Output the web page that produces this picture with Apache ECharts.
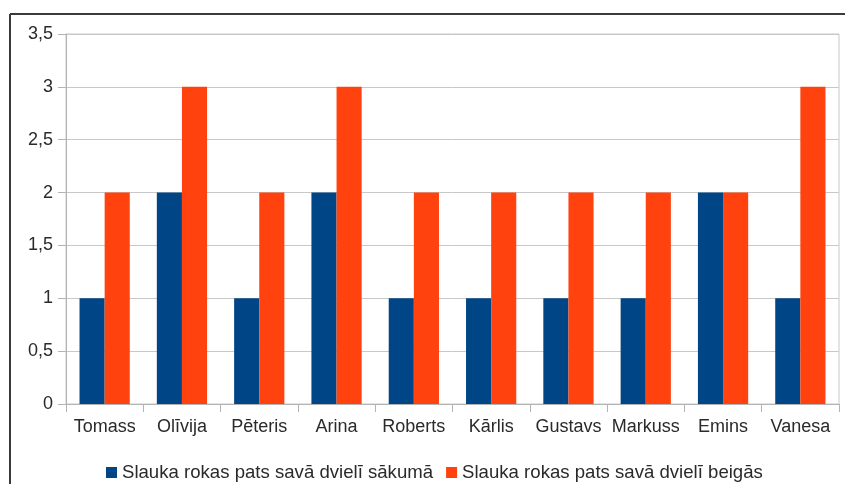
<!DOCTYPE html>
<html><head><meta charset="utf-8">
<script src="https://cdn.jsdelivr.net/npm/echarts@6/dist/echarts.min.js"></script>
<style>html,body{margin:0;padding:0;background:#fff}#c{width:845px;height:484px}</style>
</head><body><div id="c"></div>
<script>
const categories = ["Tomass","Olīvija","Pēteris","Arina","Roberts","Kārlis","Gustavs","Markuss","Emins","Vanesa"];
const seriesNames = ["Slauka rokas pats savā dvielī sākumā","Slauka rokas pats savā dvielī beigās"];
const startValues = [1,2,1,2,1,1,1,1,2,1];
const endValues = [2,3,2,3,2,2,2,2,2,3];
const yTicks = {min:0, max:3.5, interval:0.5};

const font = "Liberation Sans";
const txt = '#2a2a2a';
const chart = echarts.init(document.getElementById('c'), null, {renderer:'canvas'});
chart.setOption({
  animation:false,
  textStyle:{fontFamily:font},
  graphic:[
    {type:'line', shape:{x1:10,y1:14,x2:845,y2:14}, style:{stroke:'#3a3a3a', lineWidth:2}},
    {type:'line', shape:{x1:10,y1:14,x2:10,y2:484}, style:{stroke:'#3a3a3a', lineWidth:2}}
  ],
  grid:{left:66, right:6, top:34, bottom:80, show:true, borderColor:'#c8c8c8', borderWidth:1},
  legend:{
    top:458, left:101, itemWidth:11, itemHeight:11, itemGap:13,
    icon:'rect',
    textStyle:{fontFamily:font, fontSize:18.6, color:txt},
    data:seriesNames
  },
  xAxis:{
    type:'category', data:categories,
    axisLine:{lineStyle:{color:'#b3b3b3'}},
    axisTick:{show:true, length:8, lineStyle:{color:'#b3b3b3'}},
    axisLabel:{fontFamily:font, fontSize:18, color:txt, margin:14, interval:0}
  },
  yAxis:{
    type:'value', min:yTicks.min, max:yTicks.max, interval:yTicks.interval,
    axisLine:{show:true, lineStyle:{color:'#b3b3b3'}},
    axisTick:{show:true, length:8, lineStyle:{color:'#b3b3b3'}},
    splitLine:{lineStyle:{color:'#c8c8c8'}},
    axisLabel:{fontFamily:font, fontSize:18, color:txt, margin:13,
      formatter:v=>String(v).replace('.',',')}
  },
  series:[
    {name:seriesNames[0], type:'bar', data:startValues, itemStyle:{color:'#004586'}, barGap:'0%', barCategoryGap:'35%'},
    {name:seriesNames[1], type:'bar', data:endValues, itemStyle:{color:'#ff420e'}, barGap:'0%', barCategoryGap:'35%'}
  ]
});
</script></body></html>
